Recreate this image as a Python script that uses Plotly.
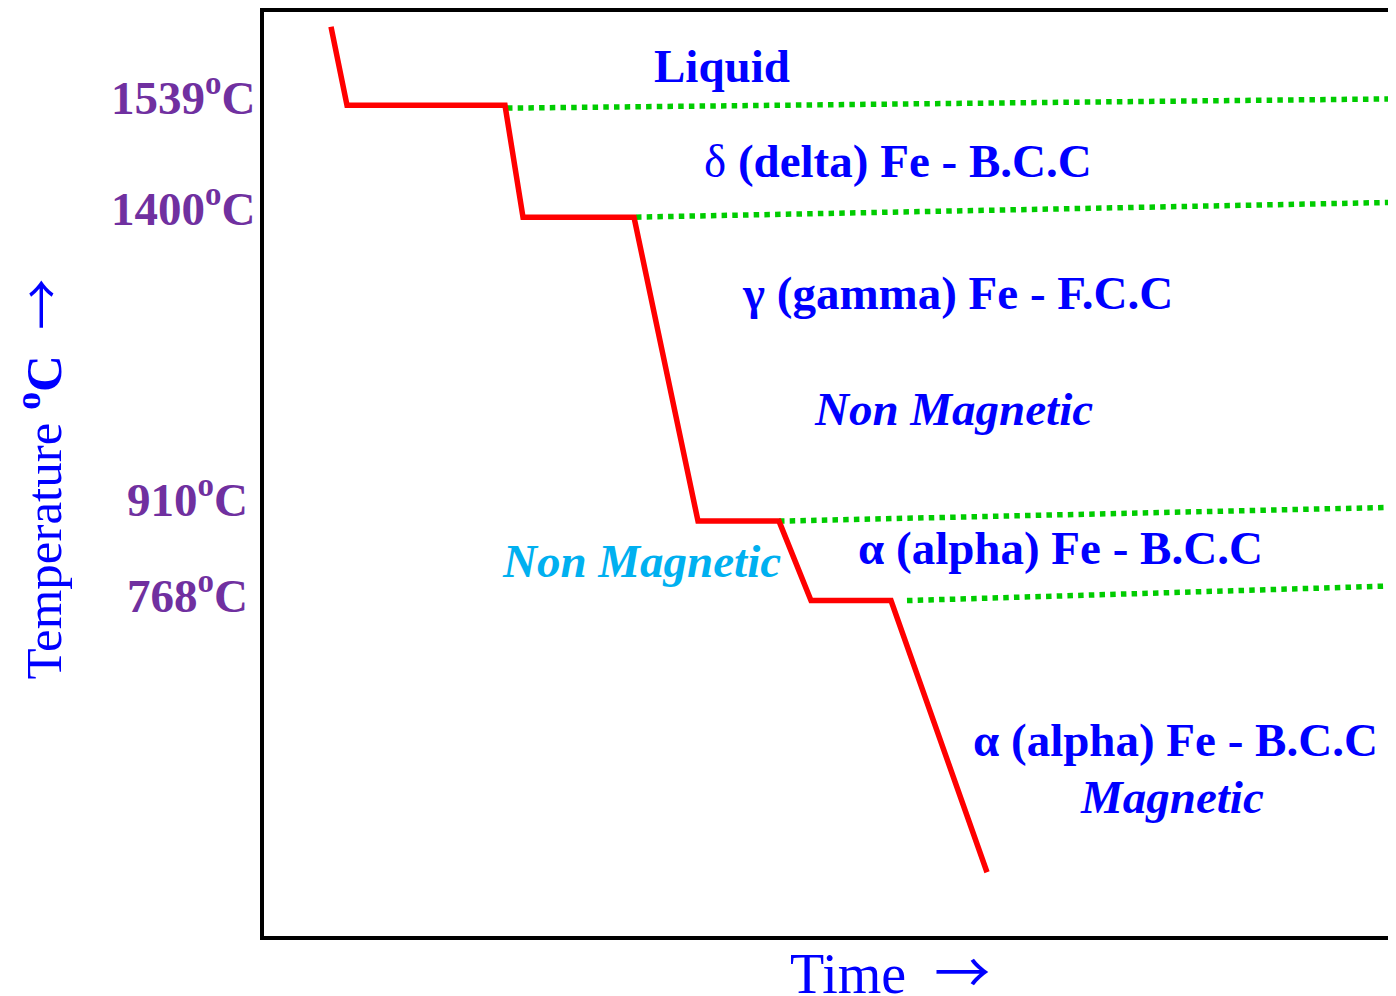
import plotly.graph_objects as go

# Cooling curve of pure iron (schematic): time units vs. chart level units
curve_time = [6.7, 8.3, 24.1, 25.9, 37.0, 43.4, 51.5, 54.7, 62.7, 72.3]
curve_level = [98.4, 89.9, 89.9, 77.8, 77.8, 44.9, 44.9, 36.3, 36.3, 6.9]

# Phase boundary (dotted) lines: start / end points
boundary_time = [[24.3, 113.2], [37.2, 113.2], [51.5, 113.2], [64.3, 113.2]]
boundary_level = [[89.6, 90.6], [77.8, 79.4], [44.9, 46.4], [36.3, 37.9]]

# Temperature labels
temp_labels = ["1539<sup>o</sup>C", "1400<sup>o</sup>C", "910<sup>o</sup>C", "768<sup>o</sup>C"]
temp_label_level = [91.1, 79.1, 47.6, 37.2]

# Region labels
region_texts = [
    "<b>Liquid</b>",
    "δ <b>(delta) Fe - B.C.C</b>",
    "<b>γ (gamma) Fe - F.C.C</b>",
    "<b><i>Non Magnetic</i></b>",
    "<b><i>Non Magnetic</i></b>",
    "<b>α (alpha) Fe - B.C.C</b>",
    "<b>α (alpha) Fe - B.C.C</b>",
    "<b><i>Magnetic</i></b>",
]
region_time = [45.8, 63.4, 69.3, 68.9, 37.7, 79.6, 91.1, 90.8]
region_level = [94.2, 83.9, 69.6, 57.0, 40.6, 42.0, 21.2, 15.0]

X_MAX = 113.2
Y_MAX = 100.0

BLUE = "#0000FF"
LIGHTBLUE = "#00B0F0"
PURPLE = "#7030A0"
GREEN = "#00CC00"
RED = "#FF0000"
FONT = "Liberation Serif, Times New Roman, serif"
ARROW = '<span style="font-family:Noto Sans CJK JP">→</span>'

region_colors = [BLUE, BLUE, BLUE, BLUE, LIGHTBLUE, BLUE, BLUE, BLUE]

fig = go.Figure()

for bx, by in zip(boundary_time, boundary_level):
    fig.add_trace(go.Scatter(
        x=bx, y=by, mode="lines",
        line=dict(color=GREEN, width=5.5, dash="5.5px,5.2px"),
        hoverinfo="skip", showlegend=False,
    ))

fig.add_trace(go.Scatter(
    x=curve_time, y=curve_level, mode="lines",
    line=dict(color=RED, width=5.5),
    showlegend=False,
))

annotations = []
for txt, tx, ty, col in zip(region_texts, region_time, region_level, region_colors):
    annotations.append(dict(
        x=tx, y=ty, xref="x", yref="y", text=txt, showarrow=False,
        xanchor="center", yanchor="middle",
        font=dict(family=FONT, size=47, color=col),
    ))

label_right = [-0.7, -0.7, -1.4, -1.4]
for txt, ty, rx in zip(temp_labels, temp_label_level, label_right):
    annotations.append(dict(
        x=rx / X_MAX, y=ty / Y_MAX, xref="paper", yref="paper",
        text="<b>" + txt + "</b>", showarrow=False,
        xanchor="right", yanchor="middle",
        font=dict(family=FONT, size=47, color=PURPLE),
    ))

# Axis titles
annotations.append(dict(
    x=-22.5 / X_MAX, y=49.4 / Y_MAX, xref="paper", yref="paper",
    text="Temperature <b><sup>o</sup>C</b>\u00a0\u00a0" + ARROW, textangle=-90,
    showarrow=False, xanchor="center", yanchor="middle",
    font=dict(family=FONT, size=51, color=BLUE),
))
annotations.append(dict(
    x=62.6 / X_MAX, y=-3.5 / Y_MAX, xref="paper", yref="paper",
    text="Time\u00a0\u00a0" + ARROW, showarrow=False, xanchor="center", yanchor="middle",
    font=dict(family=FONT, size=56, color=BLUE),
))

# page body has an 8px margin; figure sized to fill the rest of the window
fig.update_layout(
    width=1388, height=988,
    margin=dict(l=256, r=0, t=4, b=60),
    paper_bgcolor="white", plot_bgcolor="white",
    showlegend=False,
    annotations=annotations,
    xaxis=dict(range=[0, X_MAX], showline=True, linecolor="black", linewidth=4,
               mirror=True, showgrid=False, zeroline=False, showticklabels=False,
               ticks="", fixedrange=True),
    yaxis=dict(range=[0, Y_MAX], showline=True, linecolor="black", linewidth=4,
               mirror=False, showgrid=False, zeroline=False, showticklabels=False,
               ticks="", fixedrange=True),
)

fig.write_html("out.html")
